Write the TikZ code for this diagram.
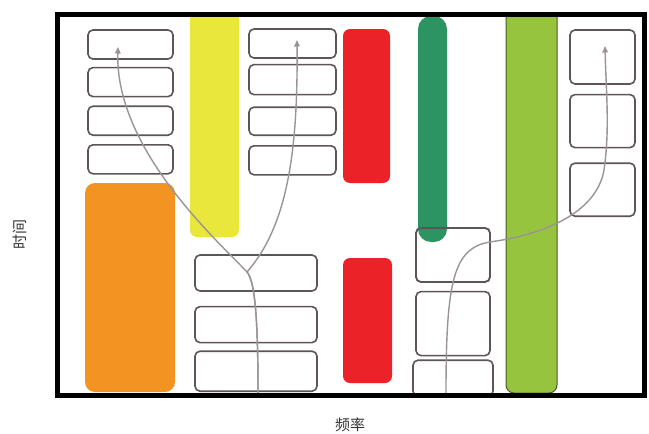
\documentclass[tikz,border=0pt]{standalone}
\usepackage{fontspec}
\newfontfamily\cjk{Noto Sans CJK SC}
\usepackage{xcolor}
\usepackage{tikz}
\usetikzlibrary{arrows.meta,positioning}
\definecolor{boxline}{HTML}{5E5656}
\definecolor{flowgrey}{HTML}{9C9494}
\definecolor{labelgrey}{HTML}{333333}
\definecolor{barorange}{HTML}{F39321}
\definecolor{baryellow}{HTML}{E9E73C}
\definecolor{barred}{HTML}{EB2227}
\definecolor{bardkgreen}{HTML}{2B9462}
\definecolor{barltgreen}{HTML}{97C43E}
\definecolor{barltline}{HTML}{4A5A30}

\begin{document}
\begin{tikzpicture}[
  x=1pt, y=-1pt,
  font=\cjk\fontsize{15}{17}\selectfont,
  >={Triangle[length=6.5pt,width=5.5pt]},
  cell/.style={
    draw=boxline, fill=white, rounded corners=5pt,
    inner sep=0pt, line width=1.6pt
  },
  bar/.style={rounded corners=7pt},
  flow/.style={->, draw=flowgrey, line width=1.4pt},
  frame/.style={draw=black, line width=5pt},
  axis/.style={text=labelgrey, inner sep=0pt}
]
  \useasboundingbox (0,0) rectangle (649,434);
  \fill[white] (0,0) rectangle (649,434);

  %% bars
  \fill[bar, barorange, rounded corners=10pt] (85,183) rectangle (175,392);
  \fill[baryellow] (190,14.5) [bar] -- (190,237) -- (239,237) [sharp corners] -- (239,14.5) -- cycle;
  \fill[bar, barred] (343,29) rectangle (390,183);
  \fill[bar, barred] (343,258) rectangle (392,383);
  \filldraw[fill=barltgreen, draw=barltline, line width=1pt]
    (506,14.5) [bar, rounded corners=8pt] -- (506,393) -- (557,393) [sharp corners] -- (557,14.5) -- cycle;

  %% left column
  \node[cell, minimum width=85pt, minimum height=29pt] (a1) at (130.5,44.5) {};
  \node[cell, minimum width=85pt, minimum height=29pt, below=7pt of a1] (a2) {};
  \node[cell, minimum width=85pt, minimum height=29pt, below=8pt of a2] (a3) {};
  \node[cell, minimum width=85pt, minimum height=29pt, below=8pt of a3] (a4) {};

  %% second column, top
  \node[cell, minimum width=87pt, minimum height=29pt] (b1) at (292.5,43.5) {};
  \node[cell, minimum width=87pt, minimum height=30pt, below=5pt of b1] (b2) {};
  \node[cell, minimum width=87pt, minimum height=28pt, below=11pt of b2] (b3) {};
  \node[cell, minimum width=87pt, minimum height=29pt, below=9pt of b3] (b4) {};

  %% second column, bottom
  \node[cell, minimum width=122pt, minimum height=36pt] (c1) at (256,273) {};
  \node[cell, minimum width=122pt, minimum height=36pt, below=14pt of c1] (c2) {};
  \node[cell, minimum width=122pt, minimum height=40pt, below=7pt of c2] (c3) {};

  %% fourth column, bottom (green bar shows through the top box)
  \node[cell, minimum width=74pt, minimum height=54pt] (d1) at (453,255) {};
  \fill[bar, bardkgreen, rounded corners=13pt] (418,16) rectangle (447,242);
  \node[cell, fill=none, minimum width=74pt, minimum height=54pt] at (d1) {};
  \node[cell, minimum width=74pt, minimum height=64pt, below=8pt of d1] (d2) {};
  \node[cell, minimum width=80pt, minimum height=36pt, below=3pt of d2] (d3) {};

  %% right column
  \node[cell, minimum width=65pt, minimum height=54pt] (e1) at (602.5,57) {};
  \node[cell, minimum width=65pt, minimum height=53pt, below=9pt of e1] (e2) {};
  \node[cell, minimum width=65pt, minimum height=53pt, below=14pt of e2] (e3) {};

  %% paths
  \coordinate (s1) at (258,394);
  \coordinate (f1) at (247,272);
  \coordinate (t1) at (118,47);
  \coordinate (t2) at (297,40);
  \coordinate (s2) at (446,394);
  \coordinate (k2) at (490,242);
  \coordinate (t3) at (605,46);
  \draw[flow] (s1) .. controls (258,330) and (256,282) .. (f1)
    .. controls (219,242) and (115,150) .. (t1);
  \draw[flow] (s1) .. controls (258,330) and (256,282) .. (f1)
    .. controls (288,225) and (298,150) .. (t2);
  \draw[flow] (s2) .. controls (446,282) and (453,248) .. (k2)
    .. controls (560,232) and (598,205) .. (604,170)
    .. controls (610,130) and (606,90) .. (t3);

  %% frame
  \draw[frame] (57,14.5) rectangle (644,395);

  %% axis labels
  \node[axis, rotate=90] (ylab) at (20,234) {时间};
  \node[axis] (xlab) at (350,425) {频率};
\end{tikzpicture}
\end{document}
